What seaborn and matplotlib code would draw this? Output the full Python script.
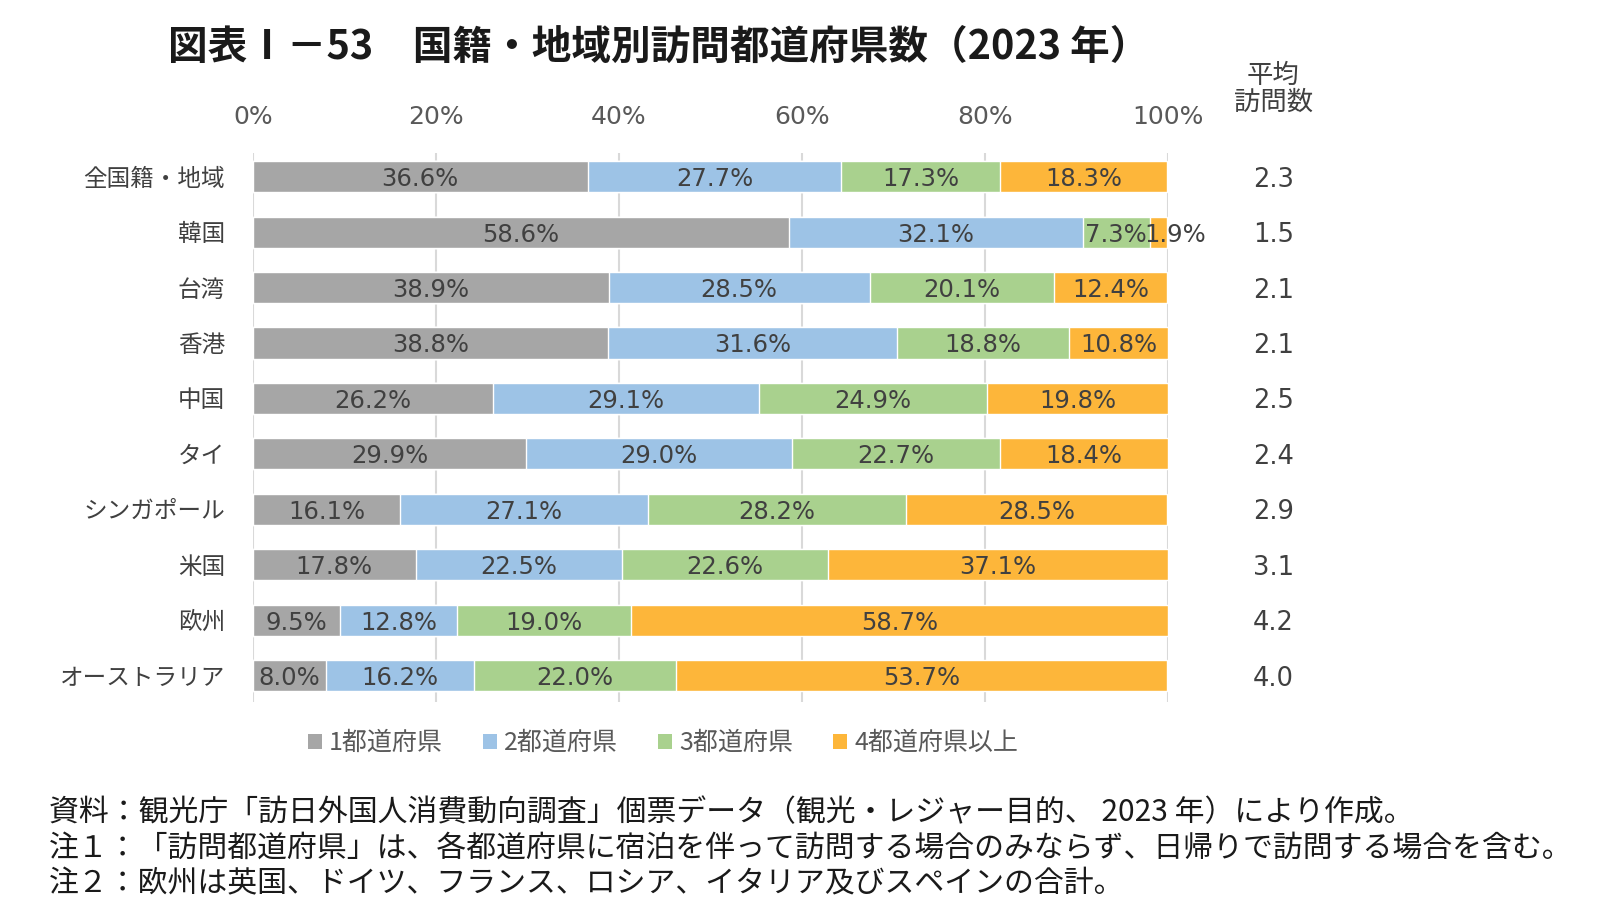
import matplotlib
matplotlib.use("Agg")
import matplotlib.pyplot as plt
import seaborn as sns
from matplotlib.patches import Patch

# data
categories = ["全国籍・地域", "韓国", "台湾", "香港", "中国", "タイ",
              "シンガポール", "米国", "欧州", "オーストラリア"]
pref1 = [36.6, 58.6, 38.9, 38.8, 26.2, 29.9, 16.1, 17.8, 9.5, 8.0]
pref2 = [27.7, 32.1, 28.5, 31.6, 29.1, 29.0, 27.1, 22.5, 12.8, 16.2]
pref3 = [17.3, 7.3, 20.1, 18.8, 24.9, 22.7, 28.2, 22.6, 19.0, 22.0]
pref4 = [18.3, 1.9, 12.4, 10.8, 19.8, 18.4, 28.5, 37.1, 58.7, 53.7]
avg_visits = ["2.3", "1.5", "2.1", "2.1", "2.5", "2.4", "2.9", "3.1", "4.2", "4.0"]
series_names = ["1都道府県", "2都道府県", "3都道府県", "4都道府県以上"]
xticks = [0, 20, 40, 60, 80, 100]

colors = ["#A6A6A6", "#9DC3E6", "#A9D18E", "#FDB63A"]

sns.set_theme(style="white")
plt.rcParams['font.family'] = ['Noto Sans CJK JP', 'DejaVu Sans']

fig = plt.figure(figsize=(16, 9.1), dpi=100)
ax = fig.add_axes([0.158, 0.229, 0.572, 0.603])

series = [pref1, pref2, pref3, pref4]
cums = []
run = [0.0] * len(categories)
for s in series:
    run = [a + b for a, b in zip(run, s)]
    cums.append(run)

# draw cumulative totals from the largest down so they stack
for cum, col in reversed(list(zip(cums, colors))):
    sns.barplot(x=cum, y=categories, color=col, orient="h", width=0.56,
                saturation=1, ax=ax, zorder=3)

# segment labels
for i in range(len(categories)):
    start = 0.0
    for s in series:
        v = s[i]
        if v < 3:
            ax.text(start - 0.6, i, f"{v:.1f}%", ha="left", va="center_baseline",
                    fontsize=17.5, color="#404040", family="DejaVu Sans", zorder=5,
                    clip_on=False)
        else:
            ax.text(start + v / 2, i, f"{v:.1f}%", ha="center", va="center_baseline",
                    fontsize=17.5, color="#404040", family="DejaVu Sans", zorder=5)
        start += v
    ax.text(111.5, i, avg_visits[i], ha="center", va="center_baseline", fontsize=18.5,
            color="#404040", family="DejaVu Sans", clip_on=False)

ax.text(111.5, -1.1, "平均\n訪問数", ha="center", va="bottom", fontsize=19,
        color="#404040", linespacing=1.0, clip_on=False)

ax.set_xlim(0, 100)
ax.set_ylim(9.47, -0.43)
ax.set_xticks(xticks)
ax.set_xticklabels([f"{t}%" for t in xticks], family="DejaVu Sans")
ax.xaxis.tick_top()
ax.tick_params(axis="x", length=0, pad=17, labelsize=18, labelcolor="#595959")
ax.tick_params(axis="y", length=0, pad=20, labelsize=17, labelcolor="#404040")
ax.set_xlabel("")
ax.set_ylabel("")
ax.grid(axis="x", color="#D9D9D9", linewidth=1.5, zorder=0)
ax.grid(axis="y", visible=False)
for sp in ax.spines.values():
    sp.set_visible(False)

handles = [Patch(facecolor=c, edgecolor="none") for c in colors]
fig.legend(handles, series_names, loc="center", bbox_to_anchor=(663 / 1600, 1 - 743 / 910),
           ncol=4, frameon=False, fontsize=18, handlelength=0.55, handleheight=0.55,
           handletextpad=0.3, columnspacing=1.6, labelcolor="#595959")

fig.text(168 / 1600, 1 - 47 / 910, "図表Ⅰ－53　国籍・地域別訪問都道府県数（2023 年）",
         ha="left", va="center", fontsize=28.5, fontweight="bold", color="#1a1a1a")

notes = [
    "資料：観光庁「訪日外国人消費動向調査」個票データ（観光・レジャー目的、 2023 年）により作成。",
    "注１：「訪問都道府県」は、各都道府県に宿泊を伴って訪問する場合のみならず、日帰りで訪問する場合を含む。",
    "注２：欧州は英国、ドイツ、フランス、ロシア、イタリア及びスペインの合計。",
]
for k, line in enumerate(notes):
    fig.text(49 / 1600, 1 - (813 + 35.5 * k) / 910, line, ha="left", va="center",
             fontsize=21.5, color="#1a1a1a")

fig.savefig("out.png", dpi=100, facecolor="white")
